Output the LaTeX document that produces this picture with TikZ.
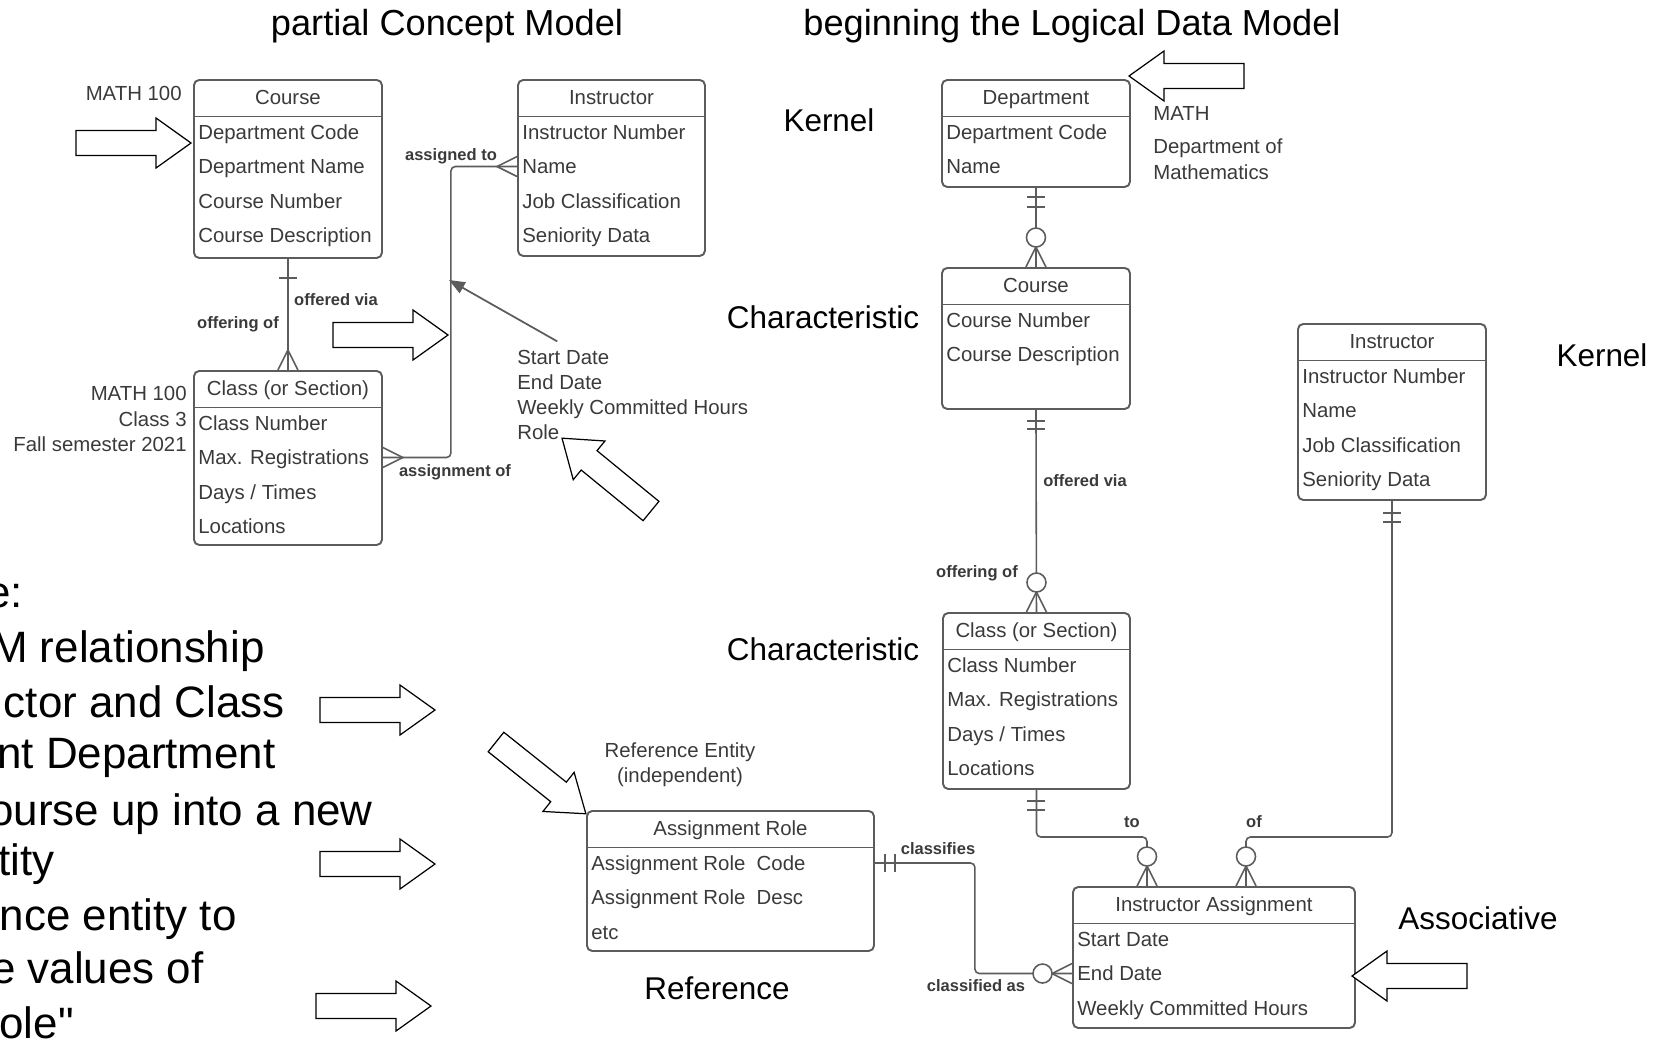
\documentclass[tikz,border=0pt]{standalone}
\usepackage{fontspec}
\setmainfont{Liberation Sans}
\newfontfamily\plainsans{Liberation Sans}
\usetikzlibrary{arrows.meta, calc}

\definecolor{ink}{HTML}{3A3A3A}
\definecolor{edge}{HTML}{5C5C5C}

\newcommand{\px}{0.02cm}

% entity box: name, x, y, width, height, title, attributes
\newcommand{\entity}[7]{
    \node[entity_box, minimum width=#4*\px, minimum height=#5*\px, anchor=north west] (#1) at (#2,#3) {};
    \draw[entity_rule] ($(#1.north west)+(0,37.5)$) -- ($(#1.north east)+(0,37.5)$);
    \node[attr_text] (#1-title) at ($(#1.north)+(0,18.5)$) {#6};
    \foreach \attrname [count=\idx from 0] in {#7}
        \node[attr_text, anchor=west] (#1-\idx) at ($(#1.north west)+(5,53+34.5*\idx)$) {\attrname};
}
% crow's foot ends: point, angle away from the box
\newcommand{\crowfoot}[2]{\draw[rel_line, shift={(#1)}, rotate=#2] (0,-10) -- (20,0) -- (0,10);}
\newcommand{\crowring}[2]{\draw[rel_line, fill=white, shift={(#1)}, rotate=#2] (29.5,0) circle[radius=9.5];}
\newcommand{\crowbar}[3]{\draw[rel_line, shift={(#1)}, rotate=#2] (#3,-9) -- (#3,9);}
% big outline arrow: tail, angle
\newcommand{\hollowarrow}[2]{\draw[hollow_arrow, shift={(#1)}, rotate=#2] (0,-12.5) -- (80,-12.5) -- (80,-25) -- (115,0) -- (80,25) -- (80,12.5) -- (0,12.5) -- cycle;}

\begin{document}
\begin{tikzpicture}[x=\px, y=-\px,
        entity_box/.style={draw=edge, line width=1.1pt, rounded corners=3pt, inner sep=0pt},
        entity_rule/.style={draw=edge, line width=1.1pt},
        rel_line/.style={draw=edge, line width=0.9pt},
        attr_text/.style={font=\fontsize{11.6}{14}\selectfont, text=ink, inner sep=0pt, text height=8.3pt, text depth=0pt},
        rel_label/.style={font=\bfseries\fontsize{9.4}{11}\selectfont, text=ink, inner sep=0pt, text height=6.8pt, text depth=0pt},
        big_label/.style={font=\fontsize{17.9}{21}\selectfont, inner sep=0pt, text height=12.8pt, text depth=0pt},
        title_text/.style={font=\fontsize{20.6}{25}\selectfont, inner sep=0pt, text height=14.7pt, text depth=0pt},
        side_text/.style={font=\plainsans\fontsize{25}{30}\selectfont, inner sep=0pt, anchor=base east},
        hollow_arrow/.style={draw=black, line width=0.7pt, fill=white},
        note_arrow/.style={draw=edge, line width=1pt, -{Triangle[length=9pt, width=7pt]}}
    ]
    \useasboundingbox (0,0) rectangle (1662,1049);
    \clip (0,0) rectangle (1662,1049);

    \node[title_text] (title_concept) at (447,23) {partial Concept Model};
    \node[title_text] (title_logical) at (1072,23) {beginning the Logical Data Model};

    % partial concept model
    \entity{course_c}{193}{79}{188}{178}{Course}{Department Code, Department Name, Course Number, Course Description}
    \entity{instr_c}{517}{79}{187}{176}{Instructor}{Instructor Number, Name, Job Classification, Seniority Data}
    \entity{class_c}{193}{370}{188}{174}{Class (or Section)}{Class Number, Max. Registrations, Days / Times, Locations}

    \node[attr_text, anchor=east] (course_tag) at (182,93) {MATH 100};
    \node[attr_text, anchor=east] (class_tag1) at (187,393) {MATH 100};
    \node[attr_text, anchor=east] (class_tag2) at (187,419) {Class 3};
    \node[attr_text, anchor=east] (class_tag3) at (187,444) {Fall semester 2021};
    \foreach \line [count=\idx from 0] in {Start Date, End Date, Weekly Committed Hours, Role}
        \node[attr_text, anchor=west] (note-\idx) at (517,357+25*\idx) {\line};

    \draw[rel_line] (course_c.south) -- (class_c.north);
    \crowbar{course_c.south}{-90}{19}
    \crowfoot{class_c.north}{90}
    \node[rel_label] (lbl_via_c) at (336,300) {offered via};
    \node[rel_label] (lbl_of_c) at (238,323) {offering of};

    \draw[rel_line, rounded corners=2.5pt] (class_c.east |- class_c-1.west) -- ++(68,0) |- (instr_c.west |- instr_c-1.west);
    \crowfoot{class_c.east |- class_c-1.west}{0}
    \crowfoot{instr_c.west |- instr_c-1.west}{180}
    \node[rel_label] (lbl_assigned) at (451,155) {assigned to};
    \node[rel_label] (lbl_assignment) at (455,471) {assignment of};

    \coordinate (link_mid) at (449,280);
    \draw[note_arrow] ([shift={(-6,-8)}]note-0.north) -- (link_mid);

    % logical data model
    \entity{dept}{941}{79}{188}{107}{Department}{Department Code, Name}
    \entity{course_l}{941}{267}{188}{141}{Course}{Course Number, Course Description}
    \entity{class_l}{942}{612}{187}{176}{Class (or Section)}{Class Number, Max. Registrations, Days / Times, Locations}
    \entity{instr_l}{1297}{323}{188}{176}{Instructor}{Instructor Number, Name, Job Classification, Seniority Data}
    \entity{role}{586}{810}{287}{140}{Assignment Role}{Assignment Role~ Code, Assignment Role~ Desc, etc}
    \entity{assign}{1072}{886}{282}{141}{Instructor Assignment}{Start Date, End Date, Weekly Committed Hours}

    \node[attr_text, anchor=west] (dept_code) at (1153,113) {MATH};
    \node[attr_text, anchor=west] (dept_name1) at (1153,146) {Department of};
    \node[attr_text, anchor=west] (dept_name2) at (1153,172) {Mathematics};
    \node[attr_text] (ref_note1) at (680,750) {Reference Entity};
    \node[attr_text] (ref_note2) at (680,775) {(independent)};

    \draw[rel_line] (dept.south) -- (course_l.north);
    \crowbar{dept.south}{-90}{9}
    \crowbar{dept.south}{-90}{19}
    \crowfoot{course_l.north}{90}
    \crowring{course_l.north}{90}

    \draw[rel_line] (course_l.south) -- (class_l.north);
    \crowbar{course_l.south}{-90}{11}
    \crowbar{course_l.south}{-90}{19}
    \crowfoot{class_l.north}{90}
    \crowring{class_l.north}{90}
    \node[rel_label] (lbl_via_l) at (1085,481) {offered via};
    \node[rel_label] (lbl_of_l) at (977,572) {offering of};

    \coordinate (assign_to) at ($(assign.north west)+(75,0)$);
    \coordinate (assign_of) at ($(assign.north west)+(174,0)$);
    \draw[rel_line, rounded corners=2.5pt] (class_l.south) |- ($(assign_to)+(0,-49)$) -- (assign_to);
    \draw[rel_line, rounded corners=2.5pt] (instr_l.south) |- ($(assign_of)+(0,-49)$) -- (assign_of);
    \crowbar{class_l.south}{-90}{11}
    \crowbar{class_l.south}{-90}{20}
    \crowbar{instr_l.south}{-90}{12}
    \crowbar{instr_l.south}{-90}{21}
    \crowfoot{assign_to}{90}
    \crowring{assign_to}{90}
    \crowfoot{assign_of}{90}
    \crowring{assign_of}{90}
    \node[rel_label] (lbl_to) at (1132,822) {to};
    \node[rel_label] (lbl_of) at (1254,822) {of};

    \draw[rel_line, rounded corners=2.5pt] (role.east |- role-0.west) -- ++(100,0) |- (assign.west |- assign-1.west);
    \crowbar{role.east |- role-0.west}{0}{10}
    \crowbar{role.east |- role-0.west}{0}{20}
    \crowfoot{assign.west |- assign-1.west}{180}
    \crowring{assign.west |- assign-1.west}{180}
    \node[rel_label] (lbl_classifies) at (938,849) {classifies};
    \node[rel_label] (lbl_classified) at (976,986) {classified as};

    % entity kinds
    \node[big_label] (kind_dept) at (829,120) {Kernel};
    \node[big_label] (kind_course) at (823,317) {Characteristic};
    \node[big_label] (kind_class) at (823,649) {Characteristic};
    \node[big_label] (kind_instr) at (1602,355) {Kernel};
    \node[big_label] (kind_assign) at (1478,918) {Associative};
    \node[big_label] (kind_role) at (717,988) {Reference};

    % slide text cut at the left edge
    \node[side_text] (side1) at (23,607) {e:};
    \node[side_text] (side2) at (265,662) {M relationship};
    \node[side_text] (side3) at (285,717) {ctor and Class};
    \node[side_text] (side4) at (276,768) {nt Department};
    \node[side_text] (side5) at (373,825) {ourse up into a new};
    \node[side_text] (side6) at (55,875) {tity};
    \node[side_text] (side7) at (237,930) {nce entity to};
    \node[side_text] (side8) at (204,983) {e values of};
    \node[side_text] (side9) at (74,1038) {ole"};

    % pointers
    \hollowarrow{76,143}{0}
    \hollowarrow{333,335}{0}
    \hollowarrow{320,710}{0}
    \hollowarrow{320,864}{0}
    \hollowarrow{316,1006}{0}
    \hollowarrow{651,511}{140.7}
    \hollowarrow{496,742}{-38.6}
    \hollowarrow{1244,76}{180}
    \hollowarrow{1467,976}{180}
\end{tikzpicture}
\end{document}
